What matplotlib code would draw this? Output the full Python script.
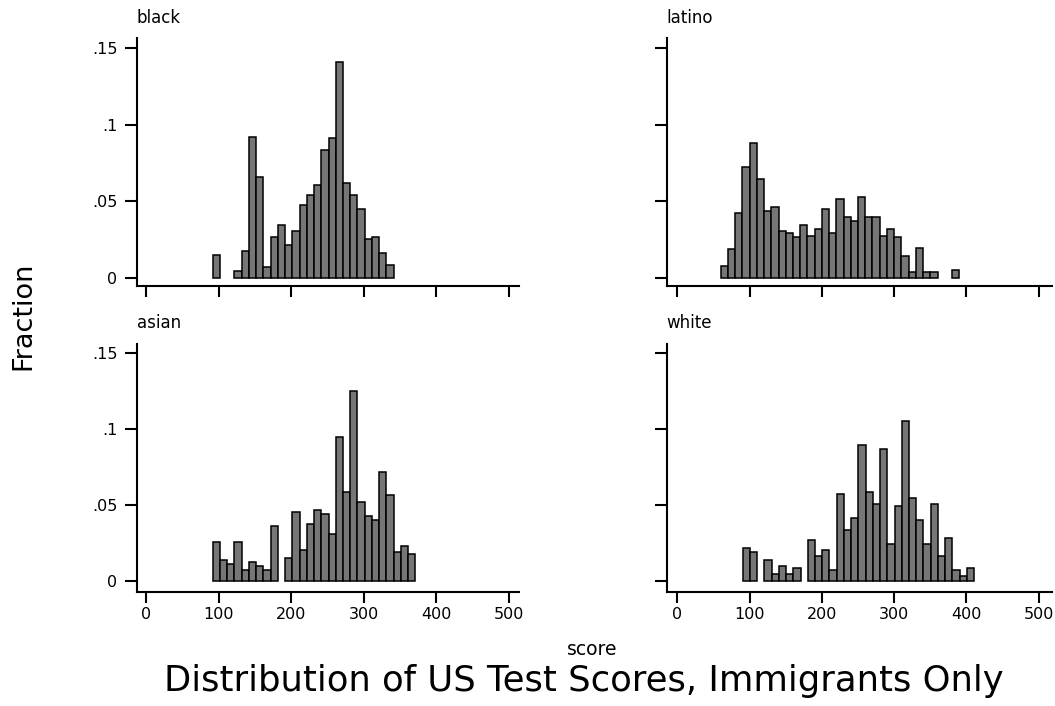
import numpy as np
import matplotlib
matplotlib.use("Agg")
import matplotlib.pyplot as plt

# Histogram of test scores by group: fraction of cases per 10-point bin
groups = ["black", "latino", "asian", "white"]

bin_width = 10.0
black_start = 91.5
latino_start = 60.0
asian_start = 91.5
white_start = 90.5

black_frac = [0.0147, 0, 0, 0.0044, 0.0175, 0.0923, 0.0660, 0.0068, 0.0265,
              0.0344, 0.0213, 0.0305, 0.0478, 0.0542, 0.0607, 0.0833, 0.0912,
              0.1410, 0.0620, 0.0542, 0.0450, 0.0252, 0.0265, 0.0160, 0.0081]

latino_frac = [0.0079, 0.0186, 0.0420, 0.0724, 0.0880, 0.0645, 0.0434, 0.0460,
               0.0305, 0.0290, 0.0263, 0.0342, 0.0276, 0.0318, 0.0447, 0.0290,
               0.0513, 0.0395, 0.0368, 0.0526, 0.0395, 0.0395, 0.0276, 0.0318,
               0.0263, 0.0145, 0.0040, 0.0197, 0.0040, 0.0040, 0, 0, 0.0050]

asian_frac = [0.0261, 0.0143, 0.0116, 0.0261, 0.0077, 0.0129, 0.0103, 0.0077,
              0.0366, 0, 0.0156, 0.0458, 0.0208, 0.0379, 0.0471, 0.0445, 0.0314,
              0.0945, 0.0590, 0.1248, 0.0524, 0.0432, 0.0406, 0.0721, 0.0564,
              0.0195, 0.0235, 0.0182]

white_frac = [0.0221, 0.0195, 0, 0.0143, 0.0050, 0.0103, 0.0050, 0.0090, 0,
              0.0274, 0.0169, 0.0208, 0.0077, 0.0577, 0.0340, 0.0419, 0.0893,
              0.0590, 0.0511, 0.0866, 0.0248, 0.0498, 0.1050, 0.0550, 0.0406,
              0.0248, 0.0511, 0.0169, 0.0287, 0.0077, 0.0037, 0.0090]

x_ticks = [0, 100, 200, 300, 400, 500]
x_tick_labels = ["0", "100", "200", "300", "400", "500"]
y_ticks = [0, 0.05, 0.10, 0.15]
y_tick_labels = ["0", ".05", ".1", ".15"]

title_text = "Distribution of US Test Scores, Immigrants Only"
x_label = "score"
y_label = "Fraction"

starts = {"black": black_start, "latino": latino_start,
          "asian": asian_start, "white": white_start}
fracs = {"black": black_frac, "latino": latino_frac,
         "asian": asian_frac, "white": white_frac}

W, H = 1055, 706
fig = plt.figure(figsize=(W / 100, H / 100), dpi=100)
fig.patch.set_facecolor("white")

FONT = "DejaVu Sans"


def px_rect(x0, y_top, x1, y_bot):
    return [x0 / W, 1 - y_bot / H, (x1 - x0) / W, (y_bot - y_top) / H]


# panel boxes in pixels: (left, top, right, bottom)
boxes = {
    "black": (137, 38.3, 519, 285.7),
    "latino": (666.7, 38.3, 1051.7, 285.7),
    "asian": (137, 344, 519, 591.7),
    "white": (666.7, 344, 1051.7, 591.7),
}
xlims = {"left": (-12.8, 514.4), "right": (-14.7, 518.0)}
ylims = {"top": (-0.00523, 0.15657), "bottom": (-0.00669, 0.15574)}

for g in groups:
    col = "left" if g in ("black", "asian") else "right"
    row = "top" if g in ("black", "latino") else "bottom"
    ax = fig.add_axes(px_rect(*boxes[g]))
    h = np.asarray(fracs[g], dtype=float)
    edges = starts[g] + bin_width * np.arange(len(h))
    keep = h > 0
    ax.bar(edges[keep], h[keep], width=bin_width, align="edge",
           color="#767676", edgecolor="black", linewidth=1.1, zorder=2)

    ax.set_xlim(*xlims[col])
    ax.set_ylim(*ylims[row])
    for s in ("top", "right"):
        ax.spines[s].set_visible(False)
    for s in ("left", "bottom"):
        ax.spines[s].set_linewidth(1.5)

    ax.set_xticks(x_ticks)
    ax.set_yticks(y_ticks)
    if row == "bottom":
        ax.set_xticklabels(x_tick_labels, fontsize=11.5, family=FONT)
    else:
        ax.set_xticklabels([])
    if col == "left":
        ax.set_yticklabels(y_tick_labels, fontsize=11.5, family=FONT)
    else:
        ax.set_yticklabels([])
    ax.tick_params(axis="x", direction="out", length=8, width=1.5, pad=3)
    ax.tick_params(axis="y", direction="out", length=9, width=1.5, pad=5)

    x0, y_top, _, _ = boxes[g]
    fig.text(x0 / W, 1 - (y_top - 15.6) / H, g, ha="left", va="baseline",
             fontsize=12, family=FONT)

fig.text(23 / W, 1 - 315.7 / H, y_label, rotation=90, ha="center",
         va="center", fontsize=19.5, family=FONT)
fig.text(592 / W, 1 - 655 / H, x_label, ha="center", va="baseline",
         fontsize=13.5, family=FONT)
fig.text(583.5 / W, 1 - 691 / H, title_text, ha="center", va="baseline",
         fontsize=25.5, family=FONT)

fig.savefig("out.png", dpi=100, facecolor="white")
